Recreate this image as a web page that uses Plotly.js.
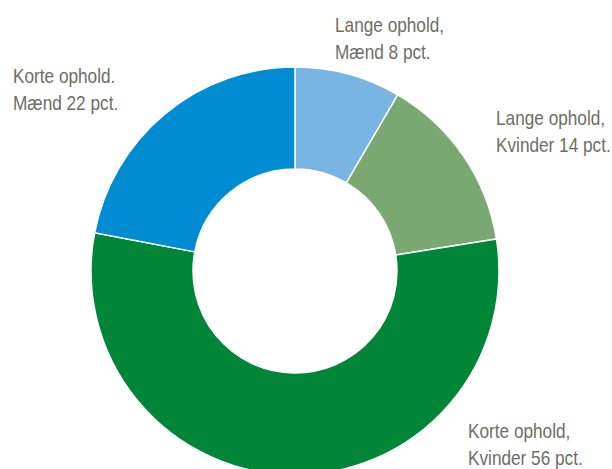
<!DOCTYPE html>
<html><head><meta charset="utf-8">
<script src="https://cdn.plot.ly/plotly-3.0.1.min.js"></script>
<style>
html,body{margin:0;padding:0;overflow:hidden;background:#fff;}
#chart .annotation-text{transform-box:fill-box;transform-origin:0% 50%;transform:scaleX(0.82);}
</style>
</head><body>
<div id="chart" style="width:612px;height:480px;"></div>
<script>
const labels = ["Lange ophold, Mænd", "Lange ophold, Kvinder", "Korte ophold, Kvinder", "Korte ophold, Mænd"];
const values = [8.4, 14.1, 55.5, 22.0];
const colors = ["#78b5e3", "#79a971", "#008539", "#008cd3"];
const labelLines = [
  ["Lange ophold,", "Mænd 8 pct."],
  ["Lange ophold,", "Kvinder 14 pct."],
  ["Korte ophold,", "Kvinder 56 pct."],
  ["Korte ophold.", "Mænd 22 pct."]
];
const W = 612, H = 480;
const labelPos = [[333, 38], [494, 131], [466, 444], [11, 89]];

const annotations = labelLines.map((l, i) => ({
  text: l.join("<br>"),
  xref: "paper", yref: "paper",
  x: labelPos[i][0] / W, y: (H - labelPos[i][1]) / H,
  xanchor: "left", yanchor: "middle", align: "left",
  showarrow: false,
  font: {family: "Liberation Sans, Arial, sans-serif", size: 21, color: "#6e6e64"}
}));

Plotly.newPlot("chart", [{
  type: "pie",
  labels: labels,
  values: values,
  hole: 0.5,
  sort: false,
  direction: "clockwise",
  rotation: 0,
  marker: {colors: colors, line: {color: "#ffffff", width: 1.5}},
  textinfo: "none",
  hoverinfo: "label+value",
  domain: {x: [91 / W, 499 / W], y: [(H - 475) / H, (H - 67) / H]}
}], {
  width: W, height: H,
  margin: {l: 0, r: 0, t: 0, b: 0},
  showlegend: false,
  paper_bgcolor: "#ffffff",
  annotations: annotations
}, {displayModeBar: false, staticPlot: true});
</script>
</body></html>
